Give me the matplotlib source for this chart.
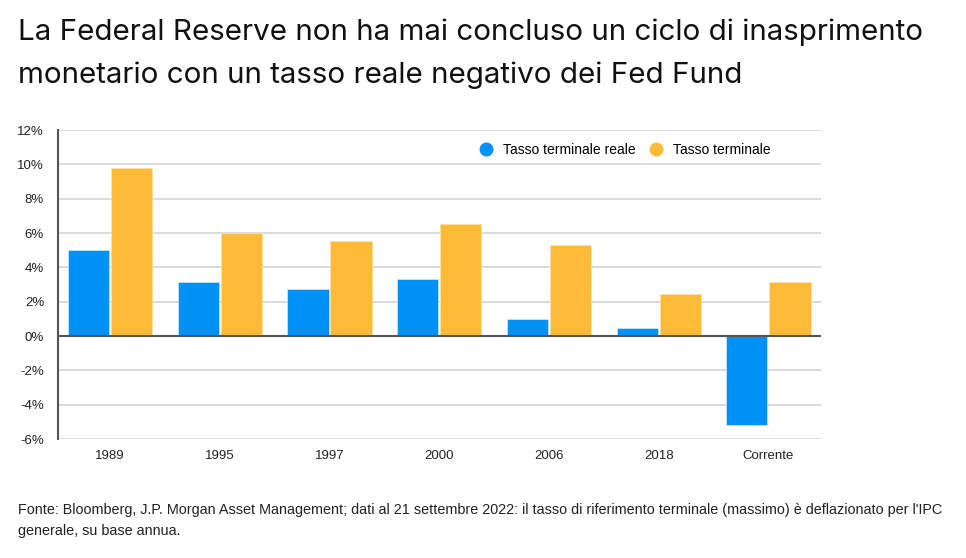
import matplotlib.pyplot as plt
import numpy as np
from matplotlib.lines import Line2D

# Data (%)
categories = ['1989', '1995', '1997', '2000', '2006', '2018', 'Corrente']
real_rate = [5.0, 3.15, 2.75, 3.3, 1.0, 0.5, -5.15]
terminal_rate = [9.8, 6.0, 5.55, 6.5, 5.3, 2.45, 3.15]
yticks = [-6, -4, -2, 0, 2, 4, 6, 8, 10, 12]

blue = '#0091F7'
orange = '#FFBA38'

plt.rcParams['font.family'] = ['Liberation Sans', 'DejaVu Sans']

fig = plt.figure(figsize=(9.66, 5.58), dpi=100)
ax = fig.add_axes([0.060, 0.213, 0.790, 0.554])

x = np.arange(len(categories))
w = 0.375
off = 0.196
ax.bar(x - off, real_rate, w, color=blue, edgecolor='#cfe9ff', linewidth=0.5, zorder=3)
ax.bar(x + off, terminal_rate, w, color=orange, edgecolor='#ffe3a8', linewidth=0.5, zorder=3)

ax.set_xlim(-0.474, len(categories) - 0.52)
ax.set_ylim(-6, 12)
ax.set_yticks(yticks)
ax.set_yticklabels([f'{t}%' for t in yticks], fontsize=9.5, color='#222222')
ax.set_xticks(x)
ax.set_xticklabels(categories, fontsize=9.5, color='#222222')
ax.tick_params(axis='both', length=0, pad=8)
ax.tick_params(axis='y', pad=10)

ax.grid(axis='y', color='#d4d4d4', linewidth=1.2, zorder=0)
ax.axhline(0, color='#555555', linewidth=1.5, zorder=4)
for s in ['top', 'right', 'bottom']:
    ax.spines[s].set_visible(False)
ax.spines['left'].set_color('#555555')
ax.spines['left'].set_linewidth(1.5)

handles = [Line2D([], [], marker='o', linestyle='', markersize=9, color=blue),
           Line2D([], [], marker='o', linestyle='', markersize=9, color=orange)]
ax.legend(handles, ['Tasso terminale reale', 'Tasso terminale'], ncol=2, frameon=False,
          loc='upper right', bbox_to_anchor=(0.95, 1.0), fontsize=10,
          handletextpad=0.2, columnspacing=0.5)

# Title, two lines
title_font = ['Inter', 'DejaVu Sans']
fig.text(0.019, 0.929, 'La Federal Reserve non ha mai concluso un ciclo di inasprimento',
         fontsize=21.3, color='#111111', va='baseline', family=title_font)
fig.text(0.019, 0.852, 'monetario con un tasso reale negativo dei Fed Fund',
         fontsize=21.3, color='#111111', va='baseline', family=title_font)

# Source note
fig.text(0.019, 0.079, "Fonte: Bloomberg, J.P. Morgan Asset Management; dati al 21 settembre 2022: il tasso di riferimento terminale (massimo) è deflazionato per l'IPC",
         fontsize=10.4, color='#222222', va='baseline')
fig.text(0.019, 0.041, 'generale, su base annua.',
         fontsize=10.4, color='#222222', va='baseline')

fig.savefig('out.png', dpi=100)
